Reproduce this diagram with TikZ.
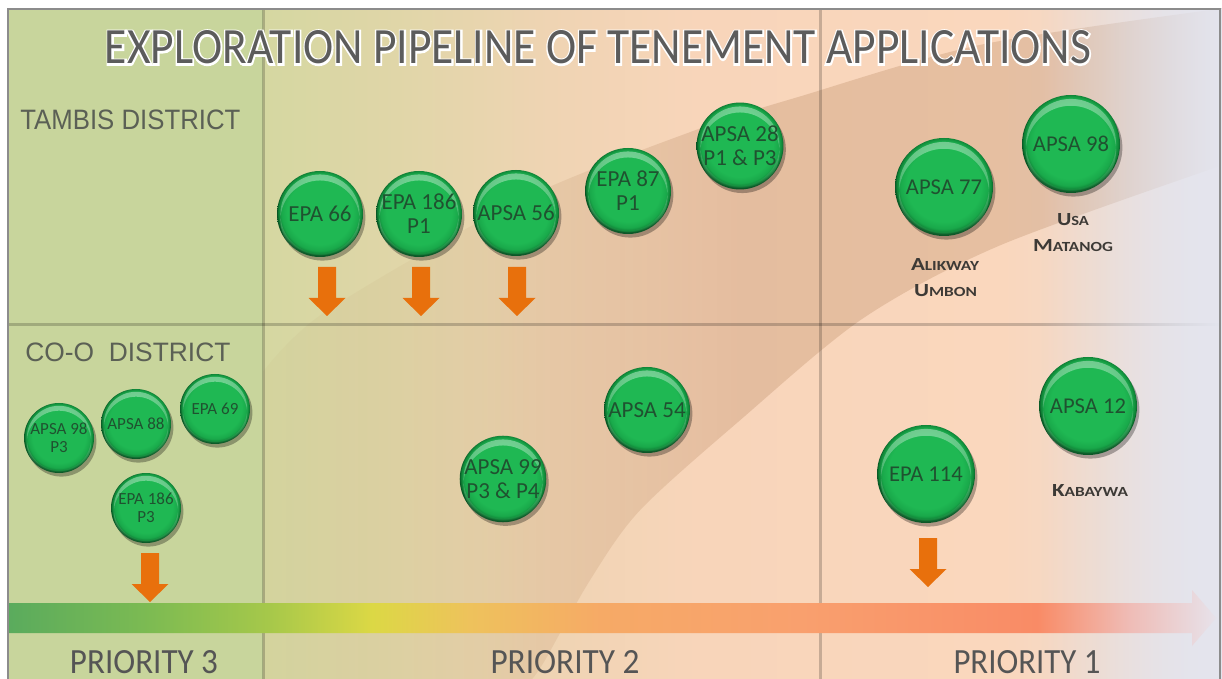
\documentclass[tikz,border=0pt]{standalone}
\usepackage{graphicx}
\usepackage{fontspec}
\setmainfont{Carlito}
\newfontfamily\arialf{Liberation Sans}
\newfontfamily\glowfont{Carlito}[FakeBold=7]
\usetikzlibrary{fadings,shadows,calc}

% background colours
\definecolor{bg0}{HTML}{CFD69F}
\definecolor{bg1}{HTML}{D5D7A1}
\definecolor{bg2}{HTML}{E0D6A8}
\definecolor{bg3}{HTML}{EFD4B3}
\definecolor{bg4}{HTML}{F8D5BA}
\definecolor{bg5}{HTML}{FAD7BD}
\definecolor{bg6}{HTML}{F1D9C9}
\definecolor{bg7}{HTML}{E4E4EE}
\pgfdeclarehorizontalshading{bgsh}{100bp}{color(0bp)=(bg0); color(25bp)=(bg0); color(35.5bp)=(bg1); color(41bp)=(bg2); color(47.3bp)=(bg3); color(53.5bp)=(bg4); color(66bp)=(bg5); color(70bp)=(bg6); color(75bp)=(bg7); color(100bp)=(bg7)}

% bar colours
\definecolor{br0}{HTML}{5AAB5D}
\definecolor{br1}{HTML}{7DBB52}
\definecolor{br2}{HTML}{A6C84A}
\definecolor{br3}{HTML}{DCD845}
\definecolor{br4}{HTML}{EEC25C}
\definecolor{br5}{HTML}{F6AA66}
\definecolor{br6}{HTML}{F9A06E}
\definecolor{br7}{HTML}{F98B66}
\definecolor{br8}{HTML}{EFBCB6}
\definecolor{br9}{HTML}{E7E2EA}
\pgfdeclarehorizontalshading{barsh}{100bp}{color(0bp)=(br0); color(25bp)=(br0); color(30.9bp)=(br1); color(35.8bp)=(br2); color(40.1bp)=(br3); color(44.1bp)=(br4); color(49.5bp)=(br5); color(57.8bp)=(br6); color(67.6bp)=(br7); color(71.4bp)=(br8); color(75bp)=(br9); color(100bp)=(br9)}

% bubble colours
\definecolor{bubA}{HTML}{1FB853}
\definecolor{bubB}{HTML}{19A84A}
\definecolor{bubC}{HTML}{0F8236}
\definecolor{bubD}{HTML}{095524}
\pgfdeclareradialshading{bubsh}{\pgfpoint{0bp}{2bp}}{color(0bp)=(bubA); color(19bp)=(bubA); color(22.5bp)=(bubB); color(24.3bp)=(bubC); color(25bp)=(bubD); color(50bp)=(bubD)}

\pgfdeclarehorizontalshading{bandfadesh}{100bp}{color(0bp)=(pgftransparent!85); color(25bp)=(pgftransparent!85); color(36bp)=(pgftransparent!70); color(50bp)=(pgftransparent!0); color(100bp)=(pgftransparent!0)}
\pgfdeclarefading{bandfade}{\pgfuseshading{bandfadesh}}

\definecolor{bubtext}{HTML}{1F5230}
\definecolor{leftcol}{HTML}{C8D59C}
\definecolor{bandc}{HTML}{A06A40}
\definecolor{fadec}{HTML}{E4E5EE}
\definecolor{arrowc}{HTML}{E8700C}
\definecolor{labc}{HTML}{3D3A36}
\definecolor{distc}{HTML}{5B6055}
\definecolor{prioc}{HTML}{555555}
\definecolor{titlec}{HTML}{5C5C5C}
\definecolor{bordc}{HTML}{8C8C8C}

\newcommand\midf{\fontsize{11.5}{12}\selectfont}
\newcommand\bigf{\fontsize{11.3}{12}\selectfont}
\newcommand\smlf{\fontsize{8.5}{9}\selectfont}
\newcommand\mysc[2]{{\fontsize{9.3}{10}\selectfont\bfseries #1}{\fontsize{7}{8}\selectfont\bfseries #2}}
\newcommand\titlestr{EXPLORATION PIPELINE OF TENEMENT APPLICATIONS}
\newcommand\glowtitle{%
  \rlap{\color{white}\resizebox{493pt}{16.5pt}{\glowfont\titlestr}}%
  \resizebox{493pt}{16.5pt}{\titlestr}}

\tikzset{
  bubble/.style={circle, inner sep=0pt, minimum size=#1pt, shade, shading=bubsh,
    text=bubtext, align=center,
    drop shadow={shadow xshift=1.2pt, shadow yshift=-1.8pt, opacity=0.3, fill=black},
    path picture={\fill[white, opacity=0.4, path fading=south, even odd rule]
      (path picture bounding box.center) circle[radius=0.46*#1pt]
      ([yshift=-0.07*#1pt]path picture bounding box.center) circle[radius=0.46*#1pt];}},
  gridline/.style={line width=1.5pt, black, opacity=0.2},
  lbl/.style={inner sep=0pt, text=labc},
  downarrow/.pic={\fill[arrowc] (-9,0) -- (9,0) -- (9,31) -- (18.5,31) -- (0,49)
      -- (-18.5,31) -- (-9,31) -- cycle;}
}

\begin{document}
\begin{tikzpicture}[x=0.5pt, y=-0.5pt]
\useasboundingbox (0,0) rectangle (1222,679);
\fill[white] (0,0) rectangle (1222,679);

% background
\shade[shading=bgsh] (8,9) rectangle (1222,679);

% swoosh band
\begin{scope}
\clip (263,9) rectangle (1222,679);
\fill[bandc, opacity=0.22, path fading=bandfade]
  plot[smooth] coordinates {(258,378) (323,313) (520,200) (700,128) (800,96) (982,44) (1222,8)}
  -- (1222,165)
  -- plot[smooth] coordinates {(1222,165) (1000,245) (863,318) (740,420) (640,510) (590,580) (545,660) (532,679)}
  -- (258,679) -- cycle;
\end{scope}

% left column
\fill[leftcol] (8,9) rectangle (263,679);

% grid lines
\draw[gridline] (263,9) -- (263,679);
\draw[gridline] (820,9) -- (820,679);
\draw[gridline] (8,325) -- (1222,325);

% right fade
\fill[fadec, path fading=west] (1040,9) rectangle (1222,679);

% priority bar
\shade[shading=barsh] (8,603) -- (1192,603) -- (1192,590) -- (1216,618)
  -- (1192,646) -- (1192,633) -- (8,633) -- cycle;

% title with white outline
\node[inner sep=0pt, anchor=base, text=titlec] (title) at (598,64) {\glowtitle};

% district labels
\node[inner sep=0pt, anchor=base west, text=distc] (tambis) at (20,130)
  {\resizebox{110pt}{9.8pt}{\arialf TAMBIS DISTRICT}};
\node[inner sep=0pt, anchor=base west, text=distc] (coo) at (25,362)
  {\resizebox{102.5pt}{9.3pt}{\arialf CO-O\ \ DISTRICT}};

% priority labels
\node[inner sep=0pt, anchor=base, text=prioc] (p3) at (144,673) {\resizebox{74pt}{11.5pt}{PRIORITY 3}};
\node[inner sep=0pt, anchor=base, text=prioc] (p2) at (565,673) {\resizebox{74.5pt}{11.5pt}{PRIORITY 2}};
\node[inner sep=0pt, anchor=base, text=prioc] (p1) at (1027,673) {\resizebox{73.5pt}{11.5pt}{PRIORITY 1}};

% arrows
\coordinate (a1) at (327,267);
\coordinate (a2) at (421,267);
\coordinate (a3) at (517,267);
\coordinate (a4) at (150,553);
\coordinate (a5) at (928,538);
\pic at (a1) {downarrow};
\pic at (a2) {downarrow};
\pic at (a3) {downarrow};
\pic at (a4) {downarrow};
\pic at (a5) {downarrow};

% bubbles - Tambis
\node[bubble=43, font=\midf] (b66) at (320,214) {EPA 66};
\node[bubble=43, font=\midf] (b186) at (419,214) {EPA 186\\P1};
\node[bubble=43, font=\midf] (b56) at (516,213) {APSA 56};
\node[bubble=43, font=\midf] (b87) at (628,191) {EPA 87\\P1};
\node[bubble=43, font=\midf] (b28) at (740,146) {APSA 28\\P1 \& P3};
\node[bubble=49, font=\bigf] (b77) at (944,187) {APSA 77};
\node[bubble=49, font=\bigf] (b98) at (1071,144) {APSA 98};

% bubbles - Co-O
\node[bubble=35, font=\smlf] (b98p3) at (59,438) {APSA 98\\P3};
\node[bubble=35, font=\smlf] (b88) at (136,424) {APSA 88};
\node[bubble=35, font=\smlf] (b69) at (215,409) {EPA 69};
\node[bubble=35, font=\smlf] (b186p3) at (146,508) {EPA 186\\P3};
\node[bubble=43, font=\midf] (b99) at (503,479) {APSA 99\\P3 \& P4};
\node[bubble=43, font=\midf] (b54) at (647,410) {APSA 54};
\node[bubble=49, font=\bigf] (b114) at (926,474) {EPA 114};
\node[bubble=49, font=\bigf] (b12) at (1088,406) {APSA 12};

% place labels
\node[lbl, anchor=base] (lalik) at (945,271) {\resizebox{34pt}{6pt}{\mysc{A}{LIKWAY}}};
\node[lbl, anchor=base] (lumb) at (945.5,297) {\resizebox{31.5pt}{6pt}{\mysc{U}{MBON}}};
\node[lbl, anchor=base] (lusa) at (1073,226) {\resizebox{16pt}{6pt}{\mysc{U}{SA}}};
\node[lbl, anchor=base] (lmat) at (1073,252) {\resizebox{40pt}{6pt}{\mysc{M}{ATANOG}}};
\node[lbl, anchor=base] (lkab) at (1090,496) {\resizebox{38pt}{6pt}{\mysc{K}{ABAYWA}}};

% border
\draw[bordc, line width=1pt] (8,690) -- (8,9) -- (1220,9) -- (1220,690);
\end{tikzpicture}
\end{document}
